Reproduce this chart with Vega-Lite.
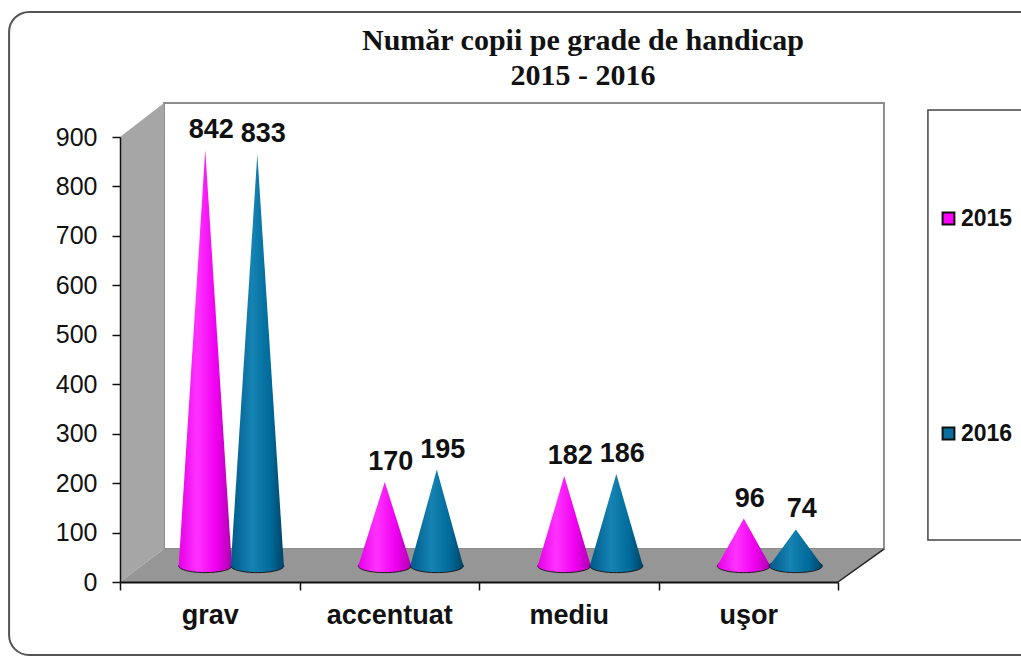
{"$schema":"https://vega.github.io/schema/vega-lite/v6.json","width":718,"height":445,"autosize":{"type":"none"},"padding":{"left":120,"top":137,"right":183,"bottom":75},"background":"white",
"title":{"text":["Număr copii pe grade de handicap","2015 - 2016"],"frame":"group","font":"Liberation Serif","fontSize":30,"fontWeight":"bold","color":"#111111","anchor":"middle","dx":104,"offset":-110,"lineHeight":35,"baseline":"bottom"},
"config":{"view":{"stroke":null}},
"datasets":{"cones":[{"cat":"grav","year":"2015","value":842},{"cat":"grav","year":"2016","value":833},{"cat":"accentuat","year":"2015","value":170},{"cat":"accentuat","year":"2016","value":195},{"cat":"mediu","year":"2015","value":182},{"cat":"mediu","year":"2016","value":186},{"cat":"uşor","year":"2015","value":96},{"cat":"uşor","year":"2016","value":74}],
"box":[{"part":"side","u":0,"v0":0,"v1":900},{"part":"side","u":0.245,"v0":66.7,"v1":968.8},{"part":"floor","u":0,"v0":0,"v1":0},{"part":"floor","u":0.245,"v0":0,"v1":66.7},{"part":"floor","u":4,"v0":0,"v1":66.7},{"part":"floor","u":4.256,"v0":66.7,"v1":66.7}]},
"resolve":{"scale":{"x":"independent","y":"independent"}},
"layer":[
{"data":{"values":[{"a":-0.618,"b":5.2,"c":-147.6,"d":1153}]},"mark":{"type":"rect","fill":"white","stroke":"#555555","strokeWidth":2,"cornerRadius":20},"encoding":{"x":{"field":"a","type":"quantitative","scale":{"domain":[0,4],"nice":false,"zero":false},"axis":null},"x2":{"field":"b"},"y":{"field":"c","type":"quantitative","scale":{"domain":[0,900],"nice":false},"axis":null},"y2":{"field":"d"}}},
{"data":{"values":[{"a":0.245,"b":4.256,"c":66.7,"d":968.8}]},"mark":{"type":"rect","fill":"white","stroke":"#8c8c8c","strokeWidth":2},"encoding":{"x":{"field":"a","type":"quantitative","scale":{"domain":[0,4],"nice":false,"zero":false},"axis":null},"x2":{"field":"b"},"y":{"field":"c","type":"quantitative","scale":{"domain":[0,900],"nice":false},"axis":null},"y2":{"field":"d"}}},
{"data":{"values":[{"a":4.501,"b":5.2,"c":85,"d":954.7}]},"mark":{"type":"rect","fill":"white","stroke":"#444444","strokeWidth":1.5},"encoding":{"x":{"field":"a","type":"quantitative","scale":{"domain":[0,4],"nice":false,"zero":false},"axis":null},"x2":{"field":"b"},"y":{"field":"c","type":"quantitative","scale":{"domain":[0,900],"nice":false},"axis":null},"y2":{"field":"d"}}},
{"data":{"name":"box"},"transform":[{"filter":"datum.part=='side'"}],"mark":{"type":"area","fill":"#a6a6a6"},"encoding":{"x":{"field":"u","type":"quantitative","scale":{"domain":[0,4],"nice":false,"zero":false},"axis":null},"y":{"field":"v0","type":"quantitative","stack":null,"scale":{"domain":[0,900],"nice":false},"axis":null},"y2":{"field":"v1"}}},
{"data":{"name":"box"},"transform":[{"filter":"datum.part=='floor'"}],"mark":{"type":"area","fill":"#969696"},"encoding":{"x":{"field":"u","type":"quantitative","scale":{"domain":[0,4],"nice":false,"zero":false},"axis":null},"y":{"field":"v0","type":"quantitative","stack":null,"scale":{"domain":[0,900],"nice":false},"axis":null},"y2":{"field":"v1"}}},
{"data":{"values":[{"u":4,"v":0},{"u":4.256,"v":66.7}]},"mark":{"type":"line","color":"#222222","strokeWidth":1.5},"encoding":{"x":{"field":"u","type":"quantitative","scale":{"domain":[0,4],"nice":false,"zero":false},"axis":null},"y":{"field":"v","type":"quantitative","scale":{"domain":[0,900],"nice":false},"axis":null}}},
{"data":{"name":"cones"},"mark":{"type":"point","opacity":0},"encoding":{"x":{"field":"cat","type":"nominal","sort":["grav","accentuat","mediu","uşor"],"title":null,"scale":{"paddingInner":0,"paddingOuter":0},"axis":{"labelAngle":0,"labelFont":"Liberation Sans","labelFontSize":27,"labelFontWeight":"bold","labelColor":"#111111","tickBand":"extent","tickColor":"#111111","tickSize":8,"tickWidth":1.5,"domainColor":"#111111","domainWidth":2,"labelPadding":12,"zindex":1}},"y":{"field":"value","type":"quantitative","title":null,"scale":{"domain":[0,900],"nice":false},"axis":{"values":[0,100,200,300,400,500,600,700,800,900],"grid":false,"labelFont":"Liberation Sans","labelFontSize":25,"labelColor":"#111111","tickColor":"#111111","tickSize":8,"tickWidth":1.5,"domainColor":"#111111","domainWidth":1.5,"labelPadding":15,"zindex":1}}}},
{"data":{"name":"cones"},"transform":[{"calculate":"indexof(['grav','accentuat','mediu','uşor'],datum.cat)+(datum.year=='2015'?0.475:0.765)","as":"c"}],"mark":{"type":"point","filled":true,"size":80,"opacity":1},"encoding":{"x":{"field":"c","type":"quantitative","scale":{"domain":[0,4],"nice":false,"zero":false},"axis":null},"y":{"datum":0,"type":"quantitative","scale":{"domain":[-32.4,867.6],"nice":false},"axis":null},"color":{"field":"year","type":"nominal","scale":{"domain":["2015","2016"],"range":["#ff00ff","#0a6f9f"]},"legend":{"title":null,"orient":"none","legendX":817,"legendY":70,"symbolType":"square","symbolSize":140,"symbolStrokeColor":"#111111","symbolStrokeWidth":2,"labelFont":"Liberation Sans","labelFontSize":23,"labelFontWeight":"bold","labelColor":"#111111","rowPadding":191,"padding":0,"labelOffset":1}}}},
{"data":{"name":"cones"},"transform":[{"filter":"datum.year=='2015'"},{"calculate":"indexof(['grav','accentuat','mediu','uşor'],datum.cat)+0.475","as":"c"}],"mark":{"type":"point","filled":true,"shape":"M-1,0A1,0.25 0 1,0 1,0A1,0.25 0 1,0 -1,0Z","size":2809,"opacity":1,"stroke":"#1a1a1a","strokeWidth":1,"fill":{"gradient":"linear","x1":0,"y1":0,"x2":1,"y2":0,"stops":[{"offset":0,"color":"#e600e6"},{"offset":0.35,"color":"#ff33ff"},{"offset":0.7,"color":"#f000f0"},{"offset":1,"color":"#b000b0"}]}},"encoding":{"x":{"field":"c","type":"quantitative","scale":{"domain":[0,4],"nice":false,"zero":false},"axis":null},"y":{"datum":0,"type":"quantitative","scale":{"domain":[-32.4,867.6],"nice":false},"axis":null}}},
{"data":{"name":"cones"},"transform":[{"filter":"datum.year=='2015'"},{"calculate":"indexof(['grav','accentuat','mediu','uşor'],datum.cat)+0.475","as":"c"},{"calculate":"datum.c-0.148","as":"l"},{"calculate":"datum.c+0.148","as":"r"},{"fold":["l","c","r"],"as":["side","px"]},{"calculate":"datum.side=='c'?datum.value:0","as":"h"}],"mark":{"type":"area","fill":{"gradient":"linear","x1":0,"y1":0,"x2":1,"y2":0,"stops":[{"offset":0,"color":"#e600e6"},{"offset":0.35,"color":"#ff33ff"},{"offset":0.7,"color":"#f000f0"},{"offset":1,"color":"#b000b0"}]}},"encoding":{"x":{"field":"px","type":"quantitative","scale":{"domain":[0,4],"nice":false,"zero":false},"axis":null},"y":{"field":"h","type":"quantitative","stack":null,"scale":{"domain":[-32.4,867.6],"nice":false},"axis":null},"y2":{"datum":0},"detail":{"field":"cat"}}},
{"data":{"name":"cones"},"transform":[{"filter":"datum.year=='2016'"},{"calculate":"indexof(['grav','accentuat','mediu','uşor'],datum.cat)+0.765","as":"c"}],"mark":{"type":"point","filled":true,"shape":"M-1,0A1,0.25 0 1,0 1,0A1,0.25 0 1,0 -1,0Z","size":2809,"opacity":1,"stroke":"#1a1a1a","strokeWidth":1,"fill":{"gradient":"linear","x1":0,"y1":0,"x2":1,"y2":0,"stops":[{"offset":0,"color":"#005a8a"},{"offset":0.4,"color":"#1583b3"},{"offset":0.75,"color":"#006a9a"},{"offset":1,"color":"#004466"}]}},"encoding":{"x":{"field":"c","type":"quantitative","scale":{"domain":[0,4],"nice":false,"zero":false},"axis":null},"y":{"datum":0,"type":"quantitative","scale":{"domain":[-32.4,867.6],"nice":false},"axis":null}}},
{"data":{"name":"cones"},"transform":[{"filter":"datum.year=='2016'"},{"calculate":"indexof(['grav','accentuat','mediu','uşor'],datum.cat)+0.765","as":"c"},{"calculate":"datum.c-0.148","as":"l"},{"calculate":"datum.c+0.148","as":"r"},{"fold":["l","c","r"],"as":["side","px"]},{"calculate":"datum.side=='c'?datum.value:0","as":"h"}],"mark":{"type":"area","fill":{"gradient":"linear","x1":0,"y1":0,"x2":1,"y2":0,"stops":[{"offset":0,"color":"#005a8a"},{"offset":0.4,"color":"#1583b3"},{"offset":0.75,"color":"#006a9a"},{"offset":1,"color":"#004466"}]}},"encoding":{"x":{"field":"px","type":"quantitative","scale":{"domain":[0,4],"nice":false,"zero":false},"axis":null},"y":{"field":"h","type":"quantitative","stack":null,"scale":{"domain":[-32.4,867.6],"nice":false},"axis":null},"y2":{"datum":0},"detail":{"field":"cat"}}},
{"data":{"name":"cones"},"transform":[{"calculate":"indexof(['grav','accentuat','mediu','uşor'],datum.cat)+(datum.year=='2015'?0.475:0.765)","as":"c"}],"mark":{"type":"text","font":"Liberation Sans","fontSize":27,"fontWeight":"bold","color":"#111111","dx":6,"dy":-20},"encoding":{"x":{"field":"c","type":"quantitative","scale":{"domain":[0,4],"nice":false,"zero":false},"axis":null},"y":{"field":"value","type":"quantitative","scale":{"domain":[-32.4,867.6],"nice":false},"axis":null},"text":{"field":"value","type":"quantitative"}}}
]}
